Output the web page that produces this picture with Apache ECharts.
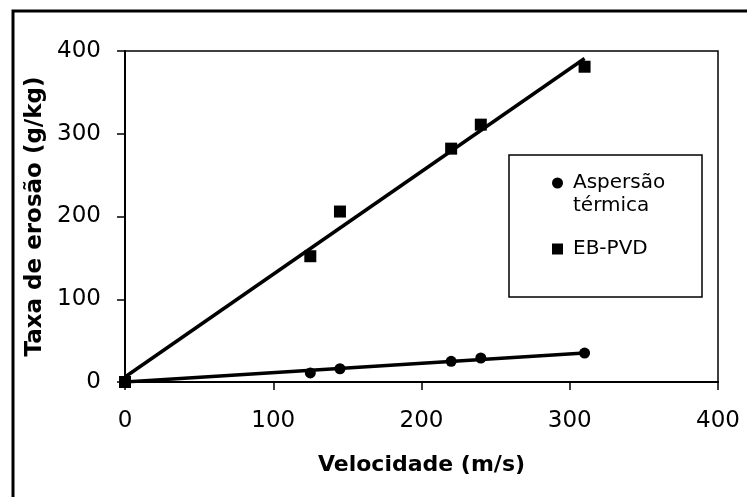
<!DOCTYPE html>
<html>
<head>
<meta charset="utf-8">
<script src="https://cdn.jsdelivr.net/npm/echarts@6/dist/echarts.min.js"></script>
<style>
  html, body { margin: 0; padding: 0; background: #fff; }
  #chart { width: 747px; height: 497px; }
</style>
</head>
<body>
<div id="chart"></div>
<script>
  // dados
  var velocidade = [0, 125, 145, 220, 240, 310];
  var aspersao = [0, 11, 16, 25, 29, 35];
  var ebpvd = [0, 152, 206, 282, 311, 381];
  // linhas de tendência (pontas)
  var tendX = [0, 310];
  var tendAspersao = [0, 35];
  var tendEbpvd = [6, 391];
  var ticks = [0, 100, 200, 300, 400];

  function pares(xs, ys) {
    var out = [];
    for (var i = 0; i < xs.length; i++) out.push([xs[i], ys[i]]);
    return out;
  }

  var myChart = echarts.init(document.getElementById("chart"));
  var fonte = "DejaVu Sans";

  var option = {
    backgroundColor: "#fff",
    animation: false,
    textStyle: { fontFamily: fonte, color: "#000" },
    grid: {
      left: 125,
      top: 51,
      right: 29,
      bottom: 115,
      show: true,
      borderColor: "#000",
      borderWidth: 1.5,
    },
    graphic: [
      {
        // moldura externa
        type: "rect",
        shape: { x: 13, y: 11, width: 800, height: 600 },
        style: { fill: "none", stroke: "#000", lineWidth: 3 },
        silent: true,
      },
      {
        // caixa da legenda
        type: "rect",
        z: 3,
        shape: { x: 509, y: 155, width: 193, height: 142 },
        style: { fill: "#fff", stroke: "#000", lineWidth: 1.5 },
        silent: true,
      },
    ],
    legend: {
      orient: "vertical",
      left: 552,
      top: 148.5,
      padding: 0,
      itemGap: 20,
      itemWidth: 11,
      itemHeight: 11,
      selectedMode: false,
      textStyle: {
        fontFamily: fonte,
        fontSize: 20,
        lineHeight: 23,
        color: "#000",
        padding: [0, 0, 0, 5],
      },
      formatter: function (name) {
        // linha vazia no topo para o ícone ficar na primeira linha do texto
        return name === "Aspersão térmica" ? "\nAspersão\ntérmica" : name;
      },
      data: [
        { name: "Aspersão térmica", icon: "circle" },
        { name: "EB-PVD", icon: "rect" },
      ],
    },
    xAxis: {
      type: "value",
      min: ticks[0],
      max: ticks[ticks.length - 1],
      interval: 100,
      name: "Velocidade (m/s)",
      nameLocation: "middle",
      nameGap: 72,
      nameTextStyle: {
        fontFamily: fonte,
        fontSize: 22,
        fontWeight: "bold",
        color: "#000",
      },
      axisLine: { show: true, lineStyle: { color: "#000", width: 2 } },
      axisTick: { show: true, length: 8, lineStyle: { color: "#000", width: 1.5 } },
      axisLabel: { margin: 28, fontSize: 23, color: "#000", fontFamily: fonte },
      splitLine: { show: false },
    },
    yAxis: {
      type: "value",
      min: ticks[0],
      max: ticks[ticks.length - 1],
      interval: 100,
      name: "Taxa de erosão (g/kg)",
      nameLocation: "middle",
      nameGap: 75,
      nameTextStyle: {
        fontFamily: fonte,
        fontSize: 23,
        fontWeight: "bold",
        color: "#000",
      },
      axisLine: { show: true, lineStyle: { color: "#000", width: 2 } },
      axisTick: { show: true, length: 8, lineStyle: { color: "#000", width: 1.5 } },
      axisLabel: { margin: 24, fontSize: 23, color: "#000", fontFamily: fonte },
      splitLine: { show: false },
    },
    series: [
      {
        name: "tendência Aspersão",
        type: "line",
        data: pares(tendX, tendAspersao),
        symbol: "none",
        lineStyle: { color: "#000", width: 3.5 },
        z: 2,
      },
      {
        name: "tendência EB-PVD",
        type: "line",
        data: pares(tendX, tendEbpvd),
        symbol: "none",
        lineStyle: { color: "#000", width: 3.5 },
        z: 2,
      },
      {
        name: "Aspersão térmica",
        type: "scatter",
        symbol: "circle",
        symbolSize: 11,
        clip: false,
        itemStyle: { color: "#000", opacity: 1 },
        data: pares(velocidade, aspersao),
        z: 3,
      },
      {
        name: "EB-PVD",
        type: "scatter",
        symbol: "rect",
        symbolSize: 12,
        clip: false,
        itemStyle: { color: "#000", opacity: 1 },
        data: pares(velocidade, ebpvd),
        z: 3,
      },
    ],
  };
  myChart.setOption(option);

  window.addEventListener("resize", function () {
    myChart.resize();
  });
</script>
</body>
</html>
